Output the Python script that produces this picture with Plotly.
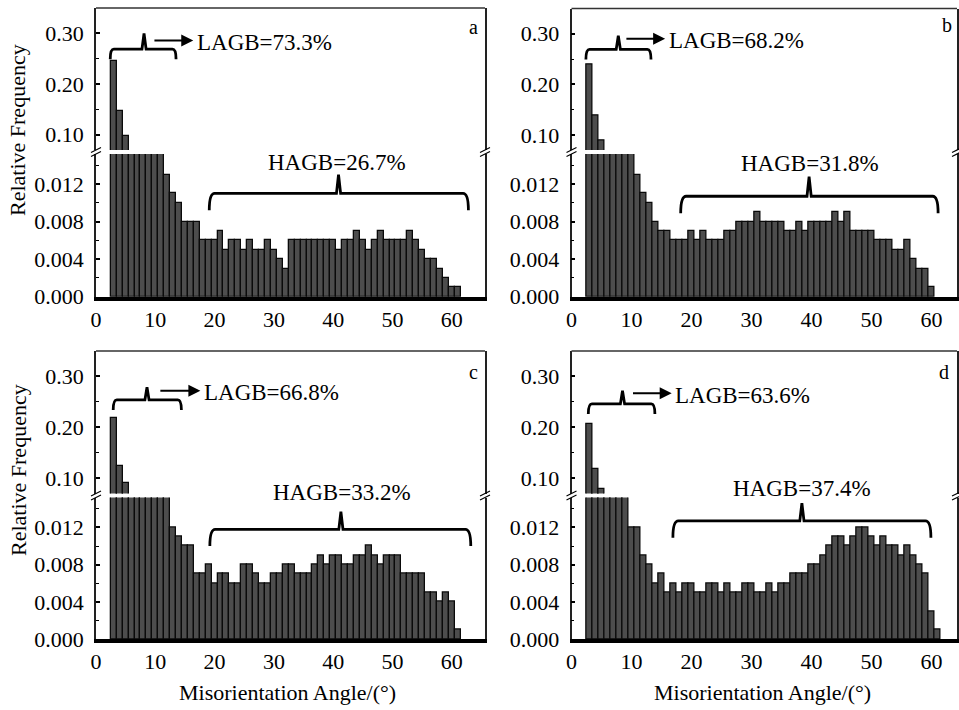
import plotly.graph_objects as go

# ---------------- data ----------------
angles_a = list(range(3, 62))  # bin centres (degrees), 1 degree bins
angles_b = list(range(3, 61))
angles_c = list(range(3, 62))
angles_d = list(range(3, 62))

freq_a = [0.246, 0.146, 0.097, 0.062, 0.045, 0.035, 0.029, 0.022, 0.017,
          0.013, 0.011, 0.010, 0.008, 0.008, 0.008, 0.006, 0.006, 0.006,
          0.007, 0.005, 0.006, 0.006, 0.005, 0.006, 0.005, 0.005, 0.006,
          0.005, 0.004, 0.003, 0.006, 0.006, 0.006, 0.006, 0.006, 0.006,
          0.006, 0.006, 0.005, 0.006, 0.006, 0.007, 0.006, 0.005, 0.006,
          0.007, 0.006, 0.006, 0.006, 0.006, 0.007, 0.006, 0.005, 0.004,
          0.004, 0.003, 0.002, 0.001, 0.001]

freq_b = [0.239, 0.139, 0.089, 0.054, 0.040, 0.033, 0.026, 0.020,
          0.013, 0.011, 0.010, 0.008, 0.007, 0.007, 0.006, 0.006, 0.006,
          0.007, 0.006, 0.007, 0.006, 0.006, 0.006, 0.007, 0.007, 0.008,
          0.008, 0.008, 0.009, 0.008, 0.008, 0.008, 0.008, 0.007, 0.007,
          0.008, 0.007, 0.008, 0.008, 0.008, 0.008, 0.009, 0.008, 0.009,
          0.007, 0.007, 0.007, 0.007, 0.006, 0.006, 0.006, 0.005, 0.005,
          0.006, 0.004, 0.003, 0.003, 0.001]

freq_c = [0.219, 0.125, 0.090, 0.055, 0.042, 0.033, 0.027, 0.021, 0.017,
          0.016, 0.012, 0.011, 0.010, 0.010, 0.007, 0.007, 0.008, 0.006,
          0.007, 0.007, 0.006, 0.006, 0.008, 0.008, 0.007, 0.006, 0.006,
          0.007, 0.007, 0.008, 0.008, 0.007, 0.007, 0.007, 0.008, 0.009,
          0.008, 0.009, 0.009, 0.008, 0.008, 0.009, 0.009, 0.010, 0.009,
          0.008, 0.009, 0.009, 0.009, 0.007, 0.007, 0.007, 0.007, 0.005,
          0.005, 0.004, 0.005, 0.004, 0.001]

freq_d = [0.207, 0.118, 0.079, 0.066, 0.052, 0.039, 0.028, 0.012, 0.012,
          0.009, 0.008, 0.006, 0.007, 0.005, 0.006, 0.005, 0.006, 0.006,
          0.005, 0.005, 0.006, 0.006, 0.005, 0.006, 0.005, 0.005, 0.006,
          0.006, 0.005, 0.005, 0.006, 0.005, 0.006, 0.006, 0.007, 0.007,
          0.007, 0.008, 0.008, 0.009, 0.010, 0.011, 0.011, 0.010, 0.011,
          0.012, 0.012, 0.011, 0.010, 0.011, 0.010, 0.010, 0.009, 0.010,
          0.009, 0.008, 0.007, 0.003, 0.001]

panel_letters = ["a", "b", "c", "d"]
lagb_labels = ["LAGB=73.3%", "LAGB=68.2%", "LAGB=66.8%", "LAGB=63.6%"]
hagb_labels = ["HAGB=26.7%", "HAGB=31.8%", "HAGB=33.2%", "HAGB=37.4%"]
upper_ticks = [0.10, 0.20, 0.30]
lower_ticks = [0.000, 0.004, 0.008, 0.012]
x_ticks = [0, 10, 20, 30, 40, 50, 60]
x_title = "Misorientation Angle/(°)"
y_title = "Relative Frequency"

# ---------------- layout geometry (pixels) ----------------
W, H = 959, 710
FONT = "Liberation Serif, Times New Roman, Tinos, DejaVu Serif, serif"
UP_RANGE = [0.07, 0.35]
LO_RANGE = [0.0, 0.0152]

geo = [
    dict(x0=96.0, x1=485.0, up=(8.0, 150.0), lo=(154.0, 296.7), xr=[0, 65.6]),
    dict(x0=571.5, x1=957.0, up=(8.5, 150.0), lo=(154.0, 296.7), xr=[0, 64.25]),
    dict(x0=96.0, x1=485.0, up=(351.0, 493.5), lo=(497.6, 639.3), xr=[0, 65.6]),
    dict(x0=571.5, x1=957.0, up=(351.0, 493.5), lo=(497.6, 639.3), xr=[0, 64.25]),
]

# annotation placement per panel (data units)
brace_lagb = [  # x0, x1, xc, y_line, y_end, y_peak
    (2.4, 13.5, 8.1, 0.269, 0.249, 0.300),
    (2.4, 13.25, 7.8, 0.269, 0.249, 0.296),
    (2.9, 14.4, 8.6, 0.254, 0.234, 0.279),
    (2.8, 13.9, 8.5, 0.246, 0.226, 0.272),
]
arrow_lagb = [  # tail x, head x, y
    (9.6, 16.4, 0.286),
    (8.9, 15.6, 0.290),
    (10.6, 17.6, 0.272),
    (10.0, 16.7, 0.267),
]
brace_hagb = [
    (19.1, 62.8, 40.9, 0.0110, 0.0092, 0.0130),
    (18.2, 61.1, 39.6, 0.0107, 0.0089, 0.0128),
    (19.2, 63.2, 41.3, 0.0118, 0.0100, 0.0137),
    (16.9, 59.9, 38.4, 0.0127, 0.0109, 0.0146),
]
hagb_text_px = [(337, 162), (810, 163), (342, 492), (802, 488)]
letter_px = [(473, 27), (947, 25), (473, 372), (944, 372)]


def pxp(x):
    return x / W


def pyp(y):
    return 1 - y / H


fig = go.Figure()
series = [(angles_a, freq_a), (angles_b, freq_b), (angles_c, freq_c), (angles_d, freq_d)]
shapes = []
annotations = []
TICKFONT = dict(family=FONT, size=22, color="black")

for i in range(4):
    g = geo[i]
    xa = "x%d" % (i + 1) if i else "x"
    xkey = "xaxis%d" % (i + 1) if i else "xaxis"
    yu_n, yl_n = 2 * i + 1, 2 * i + 2
    yu = "y%d" % yu_n if yu_n > 1 else "y"
    yl = "y%d" % yl_n
    yukey = "yaxis%d" % yu_n if yu_n > 1 else "yaxis"
    ylkey = "yaxis%d" % yl_n

    xs, ys = series[i]
    bar_kw = dict(x=xs, y=ys, width=1.0,
                  marker=dict(color="#4d4d4d", line=dict(color="#0a0a0a", width=1.3)),
                  showlegend=False, hoverinfo="x+y")
    fig.add_trace(go.Bar(xaxis=xa, yaxis=yu, **bar_kw))
    fig.add_trace(go.Bar(xaxis=xa, yaxis=yl, **bar_kw))

    fig.layout[xkey] = dict(
        domain=[pxp(g["x0"]), pxp(g["x1"])], range=g["xr"], anchor=yl, automargin=False,
        tickvals=x_ticks, ticks="", showline=True, linewidth=3.5, linecolor="black",
        showgrid=False, zeroline=False, tickfont=TICKFONT)
    fig.layout[yukey] = dict(
        domain=[pyp(g["up"][1]), pyp(g["up"][0])], range=UP_RANGE, anchor=xa, automargin=False,
        tickvals=upper_ticks, ticktext=["%.2f" % v for v in upper_ticks],
        ticks="inside", ticklen=4, tickwidth=2, tickcolor="black", ticklabelstandoff=6,
        minor=dict(tickvals=[0.15, 0.25, 0.35], ticks="inside", ticklen=3, tickwidth=1, tickcolor="black"),
        showline=True, mirror=True, linewidth=1.5, linecolor="#222",
        showgrid=False, zeroline=False, tickfont=TICKFONT)
    fig.layout[ylkey] = dict(
        domain=[pyp(g["lo"][1]), pyp(g["lo"][0])], range=LO_RANGE, anchor=xa, automargin=False,
        tickvals=lower_ticks, ticktext=["%.3f" % v for v in lower_ticks],
        ticks="inside", ticklen=4, tickwidth=2, tickcolor="black", ticklabelstandoff=6,
        minor=dict(tickvals=[0.002, 0.006, 0.010, 0.014], ticks="inside", ticklen=3, tickwidth=1, tickcolor="black"),
        showline=True, mirror=True, linewidth=1.5, linecolor="#222",
        showgrid=False, zeroline=False, tickfont=TICKFONT)

    # top frame line
    shapes.append(dict(type="line", xref="paper", yref="paper",
                       x0=pxp(g["x0"]), x1=pxp(g["x1"]), y0=pyp(g["up"][0]), y1=pyp(g["up"][0]),
                       line=dict(color="#333", width=1.5)))
    # break marks on left and right axis
    ymid = (g["up"][1] + g["lo"][0]) / 2
    for xb in (g["x0"], g["x1"]):
        for dy in (-2.0, 2.0):
            shapes.append(dict(type="line", xref="paper", yref="paper",
                               x0=pxp(xb - 5), y0=pyp(ymid + dy + 2.5),
                               x1=pxp(xb + 5), y1=pyp(ymid + dy - 2.5),
                               line=dict(color="black", width=1.2)))

    # LAGB brace (upper axis units)
    bx0, bx1, bxc, byl, bye, byp = brace_lagb[i]
    r, s = 0.6, 0.35
    path = ("M {a},{e} Q {a},{l} {ar},{l} L {cs},{l} L {c},{p} L {cs2},{l} "
            "L {br},{l} Q {b},{l} {b},{e}").format(
        a=bx0, e=bye, l=byl, ar=bx0 + r, cs=bxc - s, c=bxc, p=byp, cs2=bxc + s,
        br=bx1 - r, b=bx1)
    shapes.append(dict(type="path", xref=xa, yref=yu, path=path,
                       line=dict(color="black", width=2.8)))
    # arrow + text
    tx, hx, ay = arrow_lagb[i]
    annotations.append(dict(x=hx, y=ay, ax=tx, ay=ay, xref=xa, yref=yu, axref=xa, ayref=yu,
                            showarrow=True, arrowhead=2, arrowsize=1.2, arrowwidth=2,
                            arrowcolor="black", text=""))
    annotations.append(dict(x=hx + 0.25, y=ay - 0.004, xref=xa, yref=yu, text=lagb_labels[i],
                            showarrow=False, xanchor="left", yanchor="middle",
                            font=dict(family=FONT, size=23, color="black")))

    # HAGB brace (lower axis units)
    bx0, bx1, bxc, byl, bye, byp = brace_hagb[i]
    r, s = 0.9, 0.35
    path = ("M {a},{e} Q {a},{l} {ar},{l} L {cs},{l} L {c},{p} L {cs2},{l} "
            "L {br},{l} Q {b},{l} {b},{e}").format(
        a=bx0, e=bye, l=byl, ar=bx0 + r, cs=bxc - s, c=bxc, p=byp, cs2=bxc + s,
        br=bx1 - r, b=bx1)
    shapes.append(dict(type="path", xref=xa, yref=yl, path=path,
                       line=dict(color="black", width=2.8)))
    hx_, hy_ = hagb_text_px[i]
    annotations.append(dict(x=pxp(hx_), y=pyp(hy_), xref="paper", yref="paper", text=hagb_labels[i],
                            showarrow=False, xanchor="center", yanchor="middle",
                            font=dict(family=FONT, size=23, color="black")))

    # panel letter
    lx, ly = letter_px[i]
    annotations.append(dict(x=pxp(lx), y=pyp(ly), xref="paper", yref="paper",
                            text=panel_letters[i], showarrow=False, xanchor="center", yanchor="middle",
                            font=dict(family=FONT, size=20, color="black")))

# axis titles
for yc in (130, 470):
    annotations.append(dict(x=pxp(18), y=pyp(yc), xref="paper", yref="paper", text=y_title,
                            textangle=-90, showarrow=False, xanchor="center", yanchor="middle",
                            font=dict(family=FONT, size=22, color="black")))
for xc in (287, 762):
    annotations.append(dict(x=pxp(xc), y=pyp(692), xref="paper", yref="paper", text=x_title,
                            showarrow=False, xanchor="center", yanchor="middle",
                            font=dict(family=FONT, size=22, color="black")))

fig.update_layout(
    width=W, height=H, margin=dict(l=0, r=0, t=0, b=0, pad=0, autoexpand=False),
    paper_bgcolor="white", plot_bgcolor="white",
    bargap=0, barmode="overlay", showlegend=False,
    shapes=shapes, annotations=annotations,
    font=dict(family=FONT, color="black"),
)

post = ("document.documentElement.style.margin='0';"
        "document.body.style.margin='0';document.body.style.padding='0';"
        "document.body.style.overflow='hidden';")

fig.write_html("out.html", config={"displayModeBar": False}, post_script=post)
